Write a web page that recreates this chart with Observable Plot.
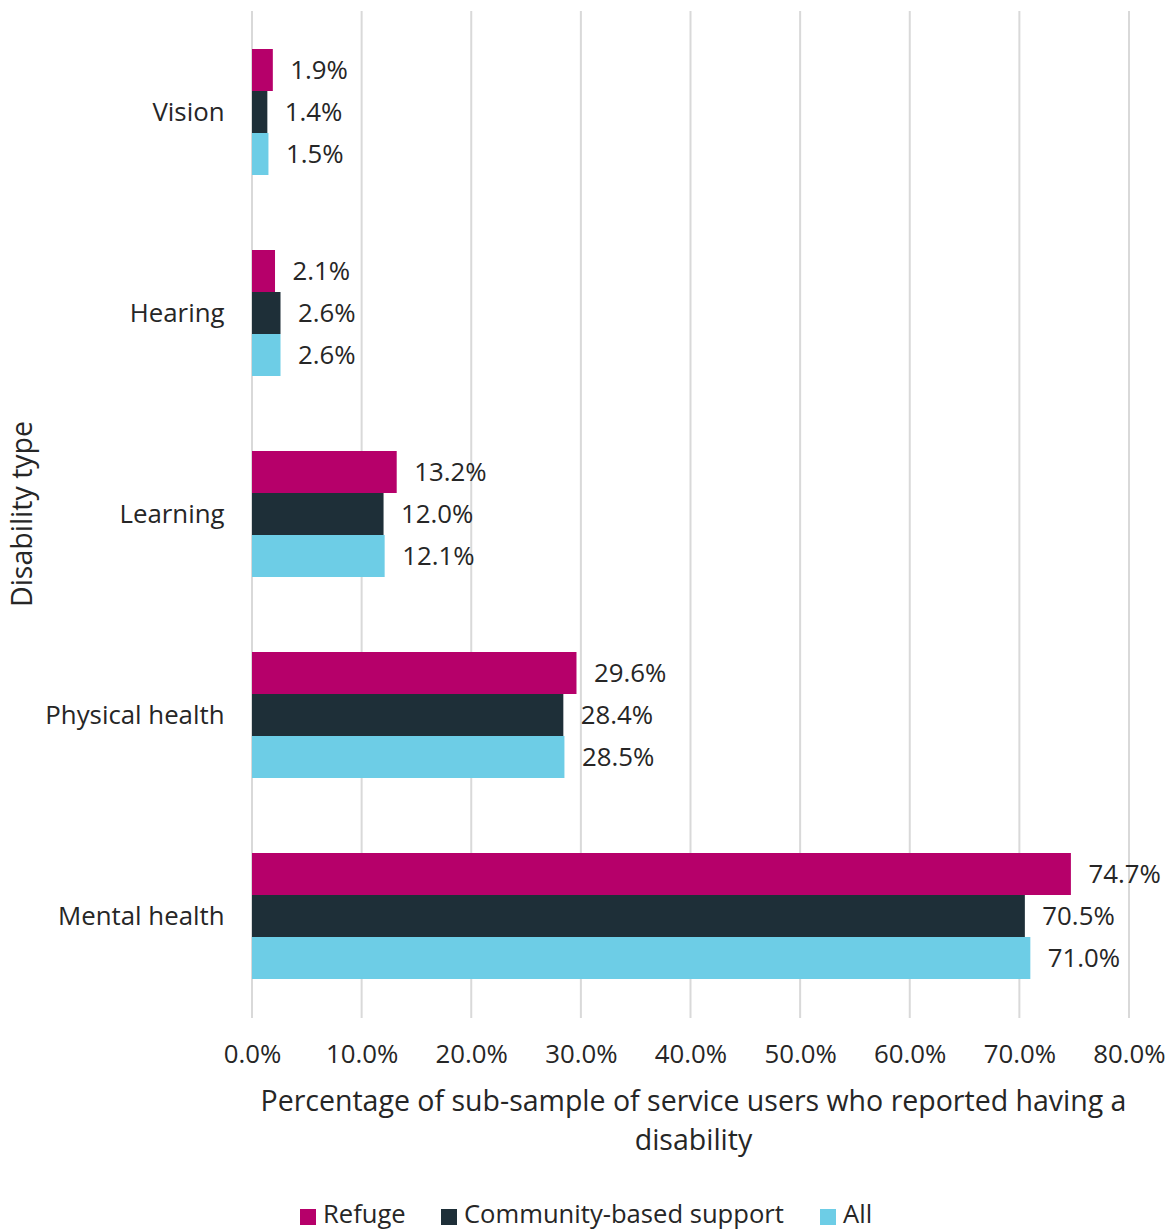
<!DOCTYPE html>
<html>
<head>
<meta charset="utf-8">
<script src="https://cdn.jsdelivr.net/npm/d3@7"></script>
<script src="https://cdn.jsdelivr.net/npm/@observablehq/plot@0.6"></script>
<style>
  html, body { margin: 0; padding: 0; background: #fff; }
  #wrap { position: relative; width: 1172px; height: 1231px; overflow: hidden; font-family: "Open Sans", sans-serif; color: #262626; }
  #xtitle { position: absolute; left: 255px; width: 877px; top: 1081px; text-align: center; font-size: 28.5px; line-height: 39px; white-space: nowrap; }
  #legend { position: absolute; left: 0; width: 1172px; top: 1196px; font-size: 25.6px; line-height: 36px; }
  .item { position: absolute; top: 0; display: flex; align-items: center; white-space: nowrap; }
  .sw { width: 16px; height: 16px; margin-right: 7px; margin-top: 6px; }
</style>
</head>
<body>
<div id="wrap">
  <div id="chart"></div>
  <div id="xtitle">Percentage of sub-sample of service users who reported having a<br>disability</div>
  <div id="legend"></div>
</div>
<script>
const categories = ["Vision", "Hearing", "Learning", "Physical health", "Mental health"];
const seriesNames = ["Refuge", "Community-based support", "All"];
const seriesColors = ["#b6006a", "#1e2f38", "#6dcde6"];
const refugeValues = [1.9, 2.1, 13.2, 29.6, 74.7];
const communityValues = [1.4, 2.6, 12.0, 28.4, 70.5];
const allValues = [1.5, 2.6, 12.1, 28.5, 71.0];
const xTicks = [0, 10, 20, 30, 40, 50, 60, 70, 80];
const yTitle = "Disability type";

const seriesValues = [refugeValues, communityValues, allValues];
const rows = [];
categories.forEach((c, i) => {
  seriesNames.forEach((s, j) => rows.push({type: c, series: s, value: seriesValues[j][i]}));
});

const fmt = d => d.toFixed(1) + "%";

const chart = Plot.plot({
  width: 1172,
  height: 1075,
  marginTop: 10,
  marginBottom: 57,
  marginLeft: 252,
  marginRight: 43,
  style: {fontFamily: "Open Sans, sans-serif", fontSize: "25.8px", color: "#262626", background: "#fff"},
  x: {domain: [0, 80], ticks: xTicks, tickFormat: fmt, tickSize: 0, tickPadding: 65, label: null},
  y: {domain: seriesNames, axis: null, padding: 0},
  fy: {domain: categories, paddingInner: 0.375, paddingOuter: 0.1875, axis: "left", tickSize: 0, tickPadding: 28, label: null},
  color: {domain: seriesNames, range: seriesColors},
  marks: [
    Plot.barX(rows, {fy: "type", y: "series", x: "value", fill: "series"}),
    Plot.text(rows, {fy: "type", y: "series", x: "value", text: d => fmt(d.value), textAnchor: "start", dx: 17, fill: "#262626", fontSize: 25.8})
  ]
});
document.getElementById("chart").appendChild(chart);

// continuous vertical gridlines drawn with the chart's own x scale, placed behind the bars
const xs = chart.scale("x");
const svg = d3.select(chart);
const grid = svg.insert("g", ":scope > :not(style)")
  .attr("stroke", "#d9d9d9").attr("stroke-width", 2);
grid.selectAll("line").data(xTicks).join("line")
  .attr("x1", d => xs.apply(d)).attr("x2", d => xs.apply(d))
  .attr("y1", 11).attr("y2", 1018);

// y-axis title
svg.append("text")
  .attr("transform", "translate(21,514) rotate(-90)")
  .attr("text-anchor", "middle")
  .attr("dominant-baseline", "central")
  .attr("font-size", 28.5)
  .attr("fill", "#262626")
  .text(yTitle);

// legend
const legend = d3.select("#legend");
const lefts = [300, 441, 820];
seriesNames.forEach((s, i) => {
  const it = legend.append("div").attr("class", "item").style("left", lefts[i] + "px");
  it.append("div").attr("class", "sw").style("background", seriesColors[i]);
  it.append("span").text(s);
});
</script>
</body>
</html>
